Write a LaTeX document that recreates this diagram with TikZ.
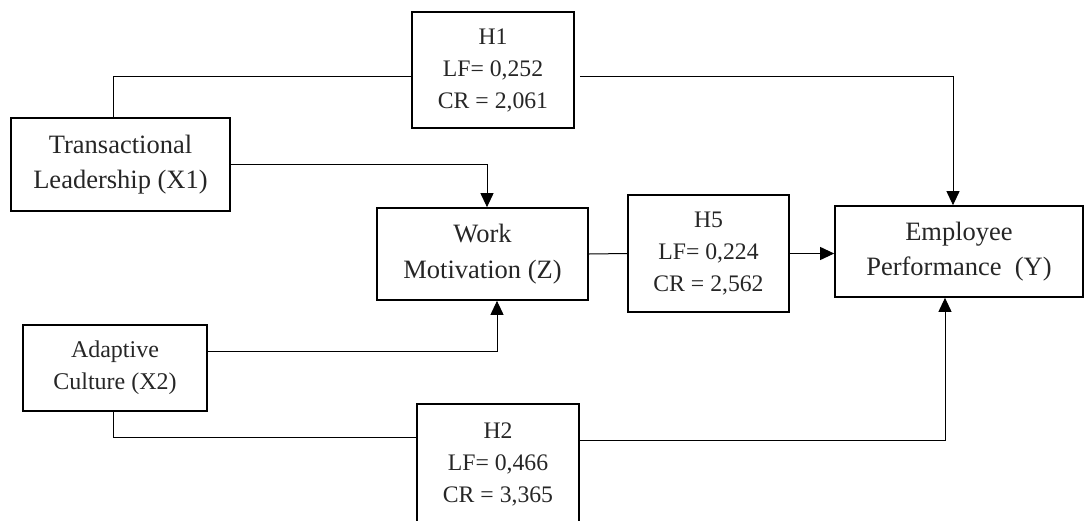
\documentclass[tikz,border=0pt]{standalone}
\usepackage{fontspec}
\setmainfont{Liberation Serif}
\usetikzlibrary{arrows.meta}

\begin{document}
\begin{tikzpicture}[x=1pt, y=-1pt,
		var/.style = {draw, line width=1.7pt, align=center, inner sep=0pt, text=black!85, font=\fontsize{26.5}{35}\selectfont},
		hyp/.style = {draw, line width=1.7pt, align=center, inner sep=0pt, text=black!85, minimum width=162pt, minimum height=116pt, font=\fontsize{23.7}{32}\selectfont},
		link/.style = {line width=1pt},
		tip/.style = {link, -{Triangle[length=14pt, width=13pt]}}]
			\useasboundingbox (0,0) rectangle (1085,520);
			\node (tl) at (120.5,164.5) [var, minimum width=219pt, minimum height=93pt] {Transactional\\Leadership (X1)};
			\node (ac) at (115,368) [var, minimum width=184pt, minimum height=86pt, font=\fontsize{24}{32}\selectfont] {Adaptive\\Culture (X2)};
			\node (wm) at (482.5,254) [var, minimum width=211pt, minimum height=92pt, font=\fontsize{26.5}{36}\selectfont] {Work\\Motivation (Z)};
			\node (ep) at (959,251.5) [var, minimum width=248pt, minimum height=91pt] {Employee\\Performance~ (Y)};
			\node (h1) at (493,70) [hyp] {H1\\LF= 0,252\\CR = 2,061};
			\node (h5) at (708.5,253.5) [hyp, minimum width=161pt, minimum height=117pt] {H5\\LF= 0,224\\CR = 2,562};
			\node (h2) at (498,464) [hyp, minimum height=120pt] {H2\\LF= 0,466\\CR = 3,365};
			\draw [link] ([xshift=-7.5pt]tl.north) |- ([yshift=-6pt]h1.west);
			\draw [tip, shorten <=5pt] ([yshift=-6pt]h1.east) -| ([xshift=-6pt]ep.north);
			\draw [tip] (tl.east) -| ([xshift=4.5pt]wm.north);
			\draw [tip] ([yshift=17pt]ac.east) -| ([xshift=14.5pt]wm.south);
			\draw [link] (wm.east) -- (h5.west);
			\draw [tip] (h5.east) -- (h5.east -| ep.west);
			\draw [link] ([xshift=-2pt]ac.south) |- ([yshift=27pt]h2.west);
			\draw [tip] ([yshift=24pt]h2.east) -| ([xshift=-14pt]ep.south);
\end{tikzpicture}
\end{document}
